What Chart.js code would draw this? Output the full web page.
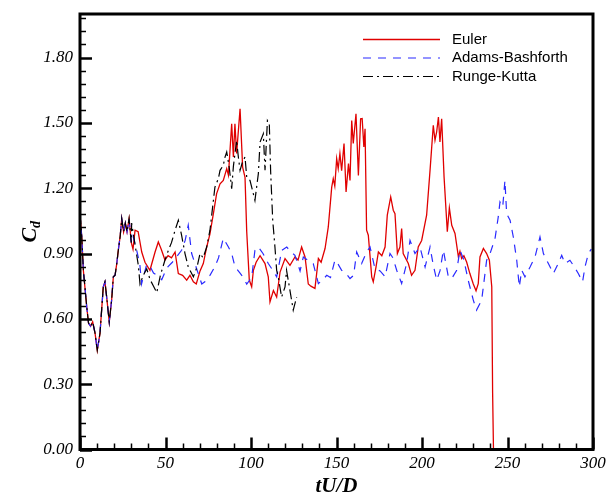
<!DOCTYPE html>
<html>
<head>
<meta charset="utf-8">
<script src="https://cdn.jsdelivr.net/npm/chart.js@4.4.0/dist/chart.umd.min.js"></script>
<style>
  html, body { margin: 0; padding: 0; background: #fff; }
</style>
</head>
<body>
<canvas id="cd-chart" width="606" height="498"></canvas>
<script>
// shared start (all three schemes coincide until tU/D ~ 30)
const startT  = [0, 1, 2, 4, 5, 6.2, 7.4, 8.8, 10.1, 11.7, 13.6, 14.6, 15.6, 17.1, 18.5, 19.5, 20.5, 21.5, 22.4, 23.5, 24.4, 25.5, 26.5, 27.5, 28.7, 30];
const startCd = [1.08, 0.98, 0.82, 0.65, 0.58, 0.566, 0.586, 0.534, 0.456, 0.534, 0.747, 0.77, 0.70, 0.586, 0.686, 0.793, 0.80, 0.854, 0.915, 0.98, 1.06, 1.0, 1.04, 1.0, 1.06, 0.95];

const eulerT = [31, 32.2, 34, 36.1, 38, 40.9, 43.9, 45.8, 47.5, 49.7, 51.5, 53.5, 55.6, 57.5, 60, 62.4, 64.3, 66.3, 68, 70.2,
  72.1, 74.1, 76, 78, 79.9, 81.9, 83.8, 85.8, 86.8, 88.7, 89.7, 90.6, 91.6, 93.6, 95.1, 96.5, 97.5, 99, 100.4, 101.4,
  103, 105.3, 108.2, 110.1, 111.1, 113.1, 115, 117, 119.9, 122.8, 125.7, 127.5, 129.6, 131.6, 133.5, 135, 137.4, 139.4, 141, 143.3,
  145.2, 147.2, 148.1, 149, 150.1, 151, 152, 153, 154.4, 155.6, 157, 157.9, 158.9, 159.8, 161.4, 162.8, 164.1, 165, 166, 166.7,
  167.6, 168.6, 170.6, 171.5, 173.1, 174.5, 176.5, 178.4, 179.7, 181.7, 183.2, 184.2, 185.6, 187.1, 188.1, 189, 192, 193.9, 195.9, 197.8,
  199.8, 202.7, 204.7, 206.6, 207.6, 208.6, 209.6, 210.5, 211.5, 212.9, 214.8, 216, 217.4, 219.3, 221.3, 222.2, 223.2, 224.5, 226.1, 228,
  230, 231.6, 232.9, 233.9, 235.9, 237.8, 239.4, 240.8, 241.3, 241.8];
const eulerCd = [0.92, 1.007, 1.0, 0.907, 0.86, 0.823, 0.907, 0.953, 0.92, 0.87, 0.89, 0.88, 0.907, 0.808, 0.80, 0.778, 0.80, 0.77, 0.76, 0.82,
  0.854, 0.93, 0.99, 1.083, 1.175, 1.22, 1.236, 1.29, 1.26, 1.496, 1.343, 1.496, 1.36, 1.565, 1.297, 1.25, 1.0, 0.778, 0.747, 0.823,
  0.86, 0.89, 0.854, 0.793, 0.678, 0.73, 0.70, 0.815, 0.877, 0.846, 0.884, 0.87, 0.93, 0.884, 0.76, 0.75, 0.74, 0.877, 0.86, 0.923,
  1.022, 1.205, 1.244, 1.21, 1.336, 1.29, 1.359, 1.28, 1.405, 1.183, 1.313, 1.236, 1.511, 1.405, 1.542, 1.259, 1.519, 1.52, 1.389, 1.473,
  1.007, 0.984, 0.793, 0.77, 0.838, 0.907, 0.89, 0.93, 1.076, 1.16, 1.099, 1.083, 0.9, 0.93, 1.015, 0.9, 0.854, 0.80, 0.823, 0.93,
  0.96, 1.076, 1.282, 1.489, 1.42, 1.46, 1.527, 1.412, 1.519, 1.252, 1.0, 1.11, 1.03, 0.992, 0.884, 0.91, 0.877, 0.89, 0.861, 0.808,
  0.76, 0.729, 0.762, 0.884, 0.923, 0.90, 0.869, 0.747, 0.26, 0];

const abT = [31, 33, 35, 36, 39, 41, 43, 45, 47.8, 50, 51.5, 54, 56, 59.4, 61.5, 63.3, 65.3, 68.2, 71.2, 73,
  74, 76, 78.9, 81, 83.8, 86.8, 88.7, 90.6, 93.6, 95.5, 97.5, 100.4, 102.3, 104.3, 107, 110.1, 113, 115, 118, 120.9,
  123, 125.7, 128.7, 130.6, 133, 136.4, 139.4, 142, 144.3, 146.5, 149.1, 151, 153, 155.5, 157.9, 160, 161.8, 164.7, 167.6, 169.6,
  172.5, 175.5, 178.4, 181.3, 183, 185.2, 188.1, 191, 193, 195.9, 198.8, 201.8, 204.7, 206.5, 208.6, 210.5, 212.5, 215.4, 217.4, 220.3,
  222.2, 224.5, 227, 230, 231.9, 234.9, 237.8, 239.8, 242.7, 244.6, 245.6, 247.2, 248.5, 249.5, 251.5, 253.4, 255.4, 256.9, 258.3, 260.2,
  263.2, 266.1, 269, 271, 273.9, 276.8, 279.7, 281.7, 283.6, 286.5, 289, 291.4, 293.9, 295.3, 297.3, 299];
const abCd = [0.98, 0.92, 0.85, 0.76, 0.85, 0.84, 0.81, 0.80, 0.78, 0.82, 0.84, 0.86, 0.88, 0.915, 0.96, 1.03, 0.90, 0.83, 0.76, 0.77,
  0.78, 0.80, 0.84, 0.88, 0.97, 0.93, 0.90, 0.84, 0.81, 0.79, 0.76, 0.79, 0.915, 0.93, 0.90, 0.854, 0.82, 0.793, 0.915, 0.93,
  0.91, 0.892, 0.82, 0.884, 0.87, 0.854, 0.762, 0.78, 0.80, 0.79, 0.87, 0.85, 0.823, 0.81, 0.785, 0.80, 0.907, 0.854, 0.907, 0.93,
  0.831, 0.82, 0.793, 0.9, 0.88, 0.823, 0.762, 0.854, 0.96, 0.9, 0.93, 0.838, 0.93, 0.85, 0.778, 0.82, 0.915, 0.793, 0.785, 0.823,
  0.915, 0.87, 0.778, 0.686, 0.64, 0.686, 0.869, 0.9, 0.969, 1.068, 1.137, 1.114, 1.236, 1.083, 1.053, 0.976, 0.869, 0.747, 0.823, 0.793,
  0.838, 0.884, 0.976, 0.9, 0.854, 0.808, 0.854, 0.892, 0.854, 0.869, 0.84, 0.808, 0.77, 0.838, 0.9, 0.92];

const rkT = [30.2, 32, 34.1, 35.1, 37, 39, 41, 43, 44.9, 47, 49.7, 51.7, 53.5, 55.6, 57.5, 59.4, 61.4, 63.3, 66.3, 68.5,
  70.2, 72, 74.1, 76, 78.9, 80.9, 81.9, 83.8, 84.8, 85.8, 87.2, 88.7, 89.7, 91.6, 92.5, 93.6, 95, 96.5, 97.5, 99.4,
  100.4, 102.3, 104.3, 105.3, 107.2, 108.2, 109.6, 110.7, 111.5, 112.7, 114, 115, 116, 117.9, 119.9, 120.8, 122.8, 124.7, 126.7];
const rkCd = [1.04, 0.95, 0.846, 0.76, 0.80, 0.83, 0.78, 0.75, 0.72, 0.80, 0.87, 0.915, 0.95, 1.007, 1.053, 0.984, 0.9, 0.838, 0.793, 0.84,
  0.9, 0.88, 0.93, 1.007, 1.205, 1.244, 1.282, 1.305, 1.343, 1.366, 1.30, 1.198, 1.30, 1.42, 1.35, 1.282, 1.32, 1.343, 1.251, 1.236,
  1.205, 1.144, 1.267, 1.412, 1.45, 1.282, 1.511, 1.496, 1.274, 1.053, 0.93, 0.823, 0.79, 0.70, 0.747, 0.823, 0.73, 0.64, 0.70];

const seriesNames = ['Euler', 'Adams-Bashforth', 'Runge-Kutta'];
const xTicks = [0, 50, 100, 150, 200, 250, 300];
const yTicks = [0, 0.3, 0.6, 0.9, 1.2, 1.5, 1.8];

function toPoints(t, v) {
  return t.map((x, i) => ({ x: x, y: v[i] }));
}

const serifItalic = { family: 'Liberation Serif', size: 17, style: 'italic' };

// frame, inward ticks, axis titles and legend
const framePlugin = {
  id: 'frame',
  afterDraw(chart) {
    const ctx = chart.ctx;
    const a = chart.chartArea;
    const xs = chart.scales.x, ys = chart.scales.y;
    ctx.save();
    ctx.strokeStyle = '#000';

    // minor + major ticks, pointing into the plot
    for (let v = 0; v <= 300; v += 10) {
      const px = Math.round(xs.getPixelForValue(v)) + 0.5;
      const major = v % 50 === 0;
      ctx.lineWidth = major ? 2.5 : 1.5;
      ctx.beginPath();
      ctx.moveTo(px, a.bottom);
      ctx.lineTo(px, a.bottom - (major ? 12 : 6));
      ctx.stroke();
    }
    for (let k = 0; k <= 33; k++) {
      const v = k * 0.06;
      const py = Math.round(ys.getPixelForValue(v)) + 0.5;
      const major = k % 5 === 0;
      ctx.lineWidth = major ? 2.5 : 1.5;
      ctx.beginPath();
      ctx.moveTo(a.left, py);
      ctx.lineTo(a.left + (major ? 12 : 6), py);
      ctx.stroke();
    }

    ctx.lineWidth = 3;
    ctx.strokeRect(a.left, a.top, a.right - a.left, a.bottom - a.top);

    // axis titles
    ctx.fillStyle = '#000';
    ctx.font = 'italic bold 21px "Liberation Serif"';
    ctx.textAlign = 'center';
    ctx.textBaseline = 'middle';
    ctx.fillText('tU/D', (a.left + a.right) / 2, 487);

    ctx.save();
    ctx.translate(30, (a.top + a.bottom) / 2);
    ctx.rotate(-Math.PI / 2);
    ctx.textAlign = 'left';
    ctx.font = 'italic bold 22px "Liberation Serif"';
    const cw = ctx.measureText('C').width;
    ctx.font = 'italic bold 14px "Liberation Serif"';
    const dw = ctx.measureText('d').width;
    const x0 = -(cw + dw) / 2;
    ctx.font = 'italic bold 22px "Liberation Serif"';
    ctx.fillText('C', x0, 0);
    ctx.font = 'italic bold 14px "Liberation Serif"';
    ctx.fillText('d', x0 + cw, 6);
    ctx.restore();

    // legend
    ctx.font = '15px "Liberation Sans"';
    ctx.textAlign = 'left';
    chart.data.datasets.forEach((ds, i) => {
      const y = 39.5 + i * 18.5;
      ctx.strokeStyle = ds.borderColor;
      ctx.lineWidth = ds.borderWidth;
      ctx.setLineDash(ds.borderDash || []);
      ctx.beginPath();
      ctx.moveTo(363, y);
      ctx.lineTo(440, y);
      ctx.stroke();
      ctx.setLineDash([]);
      ctx.fillStyle = '#000';
      ctx.fillText(ds.label, 452, y);
    });
    ctx.restore();
  }
};

new Chart(document.getElementById('cd-chart'), {
  type: 'line',
  data: {
    datasets: [
      {
        label: seriesNames[0],
        data: toPoints(startT.concat(eulerT), startCd.concat(eulerCd)),
        borderColor: '#e00000',
        borderWidth: 1.3,
        order: 3
      },
      {
        label: seriesNames[1],
        data: toPoints(startT.concat(abT), startCd.concat(abCd)),
        borderColor: '#2a2aff',
        borderWidth: 1.2,
        borderDash: [8, 7],
        order: 2
      },
      {
        label: seriesNames[2],
        data: toPoints(startT.concat(rkT), startCd.concat(rkCd)),
        borderColor: '#000000',
        borderWidth: 1.2,
        borderDash: [10, 4, 2, 4],
        order: 1
      }
    ]
  },
  options: {
    responsive: false,
    animation: false,
    layout: { padding: { top: 14, right: 13, left: 0, bottom: 0 } },
    elements: {
      point: { radius: 0 },
      line: { tension: 0, fill: false }
    },
    plugins: {
      legend: { display: false },
      tooltip: { enabled: false }
    },
    scales: {
      x: {
        type: 'linear',
        min: 0,
        max: 300,
        grid: { display: false, drawTicks: false },
        border: { display: false },
        afterBuildTicks: (s) => { s.ticks = xTicks.map(v => ({ value: v })); },
        afterFit: (s) => { s.height = 48.5; s.paddingLeft = 0; s.paddingRight = 0; },
        ticks: {
          font: serifItalic,
          color: '#000',
          padding: 4,
          maxRotation: 0,
          callback: (v) => String(v)
        }
      },
      y: {
        type: 'linear',
        min: 0,
        max: 2.0,
        grid: { display: false, drawTicks: false },
        border: { display: false },
        afterBuildTicks: (s) => { s.ticks = yTicks.map(v => ({ value: v })); },
        afterFit: (s) => { s.width = 80; s.paddingTop = 0; s.paddingBottom = 0; },
        ticks: {
          font: serifItalic,
          color: '#000',
          padding: 7,
          callback: (v) => Number(v).toFixed(2)
        }
      }
    }
  },
  plugins: [framePlugin]
});
</script>
</body>
</html>
